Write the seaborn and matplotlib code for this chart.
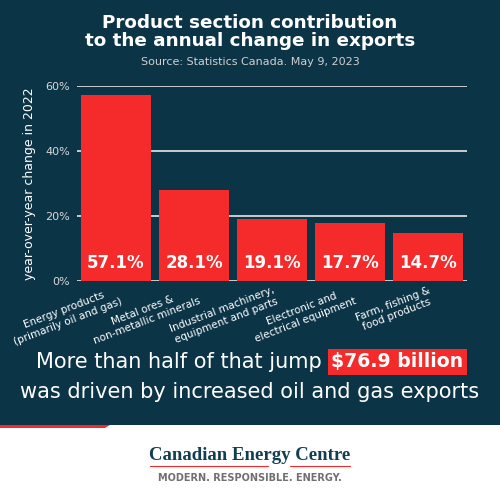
import matplotlib
matplotlib.use("Agg")
from matplotlib import pyplot as plt
from matplotlib.patches import Rectangle, Polygon
from matplotlib.lines import Line2D
import seaborn as sns
import pandas as pd

categories = [
    "Energy products\n(primarily oil and gas)",
    "Metal ores &\nnon-metallic minerals",
    "Industrial machinery,\nequipment and parts",
    "Electronic and\nelectrical equipment",
    "Farm, fishing &\nfood products",
]
values = [57.1, 28.1, 19.1, 17.7, 14.7]
yticks = [0, 20, 40, 60]
ytick_labels = ["0%", "20%", "40%", "60%"]

NAVY = "#0c3447"
RED = "#f42a2b"

df = pd.DataFrame({"category": categories, "value": values})

sns.set_style("white")
plt.rcParams["font.family"] = ["DejaVu Sans"]

fig = plt.figure(figsize=(5, 4.97), dpi=100)
fig.patch.set_facecolor("white")
# navy panel and red strip
fig.patches.append(Rectangle((0, 72 / 497), 1, 1 - 72 / 497, transform=fig.transFigure,
                             facecolor=NAVY, edgecolor="none", zorder=-10))
fig.patches.append(Polygon([(0, 72 / 497), (0, 69 / 497), (105 / 500, 69 / 497), (110 / 500, 72 / 497)],
                           closed=True, transform=fig.transFigure, facecolor=RED, edgecolor="none", zorder=-9))

ax = fig.add_axes([77 / 500, 1 - 281 / 497, 390 / 500, 195 / 497])
ax.set_facecolor("none")
sns.barplot(data=df, x="category", y="value", color=RED, width=0.9, saturation=1,
            linewidth=0, ax=ax, zorder=3)
ax.set_xlim(-0.5, 4.5)
ax.set_ylim(0, 60)
ax.set_yticks(yticks)
ax.set_yticklabels(ytick_labels)
ax.yaxis.grid(True, color="#d9d9d9", linewidth=1.3, zorder=1)
ax.set_axisbelow(True)
for s in ax.spines.values():
    s.set_visible(False)
ax.tick_params(axis="y", colors="#d9d9d9", labelsize=8, length=0, pad=5)
ax.tick_params(axis="x", length=0, pad=3)
ax.set_xlabel("")
ax.set_ylabel("year-over-year change in 2022", color="white", fontsize=9, labelpad=7)
ax.set_xticks(range(len(categories)))
ax.set_xticklabels(categories, rotation=21, ha="right", rotation_mode="anchor",
                   color="white", fontsize=7.5, multialignment="center")
for i, v in enumerate(values):
    ax.text(i, 5.5, f"{v}%", ha="center", va="center", color="white",
            fontsize=12, fontweight="heavy", zorder=5)

fig.text(0.5, 1 - 32 / 497, "Product section contribution\nto the annual change in exports",
         ha="center", va="center", color="white", fontsize=13.2, fontweight="bold", linespacing=1.0)
fig.text(0.5, 1 - 62 / 497, "Source: Statistics Canada. May 9, 2023",
         ha="center", va="center", color="#d0d0d0", fontsize=8)

fig.text(322 / 500, 1 - 362 / 497, "More than half of that jump", ha="right", va="center",
         color="white", fontsize=15)
fig.text(331 / 500, 1 - 362 / 497, "$76.9 billion", ha="left", va="center",
         color="white", fontsize=13.6, fontweight="bold",
         bbox=dict(boxstyle="square,pad=0.18", facecolor=RED, edgecolor="none"))
fig.text(0.5, 1 - 392 / 497, "was driven by increased oil and gas exports", ha="center", va="center",
         color="white", fontsize=15)

fig.text(0.5, 1 - 456 / 497, "Canadian Energy Centre", ha="center", va="center",
         color="#123e50", fontsize=13.5, fontweight="bold", family="Liberation Serif")
for x0, x1 in [(150, 268), (290, 350)]:
    fig.add_artist(Line2D([x0 / 500, x1 / 500], [1 - 466 / 497] * 2, color=RED,
                          linewidth=0.8, transform=fig.transFigure))
fig.text(0.5, 1 - 478 / 497, "MODERN. RESPONSIBLE. ENERGY.", ha="center", va="center",
         color="#707070", fontsize=7, fontweight="bold")

fig.savefig("out.png", dpi=100, facecolor=fig.get_facecolor())
